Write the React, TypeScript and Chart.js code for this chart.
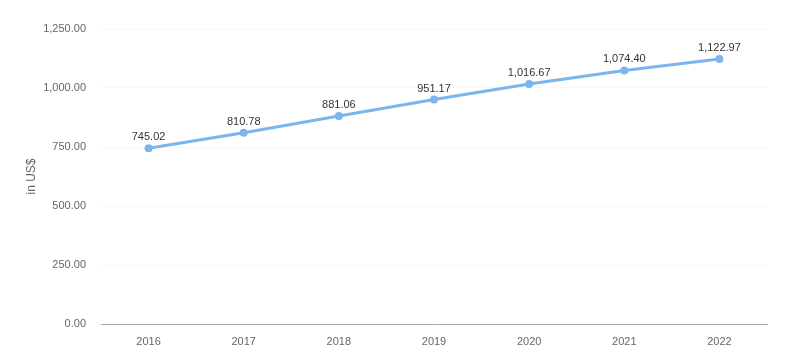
import React, { useEffect, useRef } from "react";
import { Chart, registerables } from "chart.js";

Chart.register(...registerables);

const categories = ["2016", "2017", "2018", "2019", "2020", "2021", "2022"];
const values = [745.02, 810.78, 881.06, 951.17, 1016.67, 1074.4, 1122.97];
const yTicks = [0, 250, 500, 750, 1000, 1250];
const yTitle = "in US$";

const FONT = "'Liberation Sans', Arial, sans-serif";
const fmt = (v: number) =>
  v.toLocaleString("en-US", { minimumFractionDigits: 2, maximumFractionDigits: 2 });

const dataLabels = {
  id: "dataLabels",
  afterDatasetsDraw(chart: any) {
    const ctx = chart.ctx;
    const meta = chart.getDatasetMeta(0);
    ctx.save();
    ctx.font = `11px ${FONT}`;
    ctx.fillStyle = "#333333";
    ctx.textAlign = "center";
    ctx.textBaseline = "middle";
    meta.data.forEach((pt: any, i: number) => {
      ctx.fillText(fmt(values[i]), pt.x, pt.y - 11);
    });
    ctx.restore();
  },
};

export default function App() {
  const ref = useRef<HTMLCanvasElement>(null);
  useEffect(() => {
    const chart = new Chart(ref.current!, {
      type: "line",
      data: {
        labels: categories,
        datasets: [
          {
            data: values,
            borderColor: "#7cb5ec",
            backgroundColor: "#7cb5ec",
            borderWidth: 3,
            pointRadius: 4,
            pointBackgroundColor: "#7cb5ec",
            pointBorderWidth: 0,
            tension: 0,
          },
        ],
      },
      options: {
        animation: false,
        responsive: false,
        layout: { padding: { top: 29, right: 24, left: 0, bottom: 0 } },
        plugins: { legend: { display: false }, tooltip: { enabled: false } },
        scales: {
          x: {
            offset: true,
            grid: { display: false, drawTicks: false },
            border: { display: true, color: "#a8a8a8", width: 1 },
            ticks: { color: "#666666", font: { family: FONT, size: 11 }, padding: 11 },
            afterFit: (s: any) => {
              s.height = 27;
            },
          },
          y: {
            min: 0,
            max: 1250,
            afterBuildTicks: (s: any) => {
              s.ticks = yTicks.map((v) => ({ value: v }));
            },
            grid: { color: "#e6e6e6", drawTicks: false },
            border: { display: false, dash: [1, 3] },
            ticks: {
              color: "#666666",
              font: { family: FONT, size: 11 },
              padding: 15,
              callback: (v: any) => fmt(Number(v)),
            },
            title: {
              display: true,
              text: yTitle,
              color: "#666666",
              font: { family: FONT, size: 12 },
              padding: { top: 24, bottom: 0 },
            },
            afterFit: (s: any) => {
              s.width = 101;
            },
          },
        },
      },
      plugins: [dataLabels],
    });
    return () => chart.destroy();
  }, []);
  return (
    <div style={{ position: "fixed", left: 0, top: 0, width: 791, height: 351, background: "#fff" }}>
      <canvas ref={ref} width={791} height={351} style={{ display: "block" }} />
    </div>
  );
}
